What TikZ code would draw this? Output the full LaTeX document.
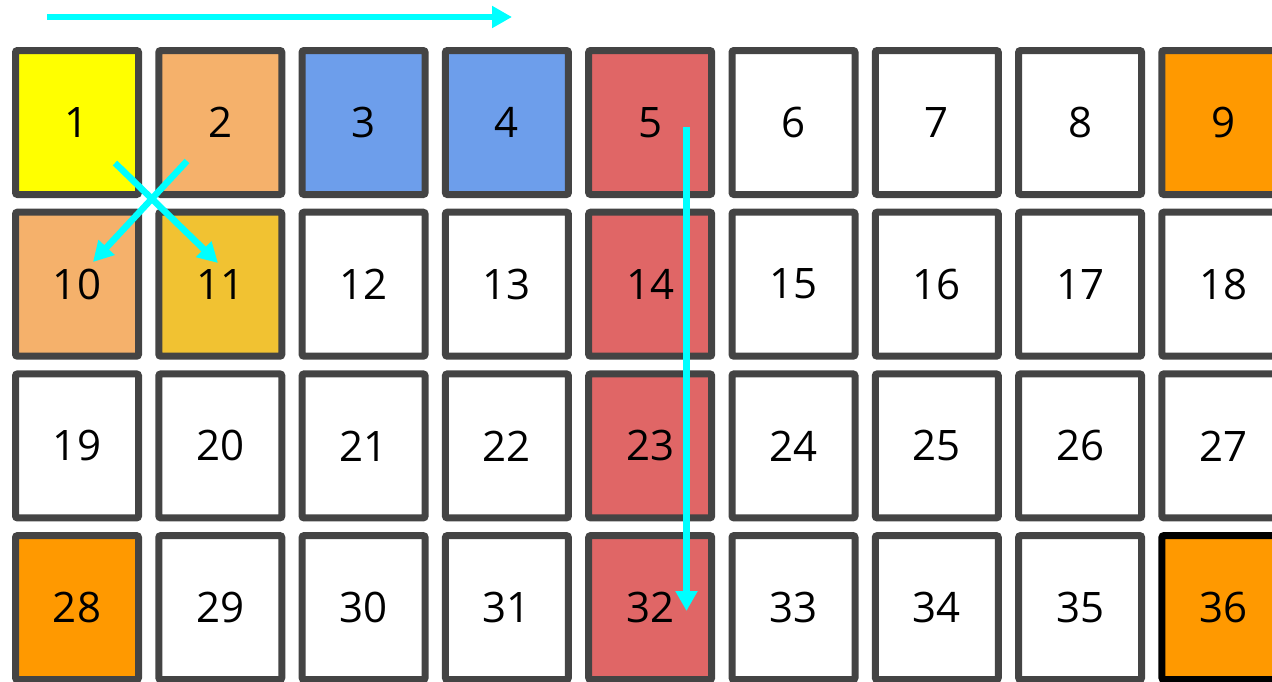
\documentclass[tikz,border=0pt]{standalone}
\usepackage{fontspec}
\setmainfont{Open Sans}
\usetikzlibrary{arrows.meta}
\definecolor{bord}{HTML}{444444}
\definecolor{cyel}{HTML}{FFFF00}
\definecolor{csand}{HTML}{F5B16B}
\definecolor{cblue}{HTML}{6D9EEB}
\definecolor{cred}{HTML}{E06666}
\definecolor{cgold}{HTML}{F1C232}
\definecolor{corange}{HTML}{FF9900}
\definecolor{ccyan}{HTML}{00FFFF}
\tikzset{
  cell/.style={draw=bord, line width=7pt, rounded corners=2pt, minimum width=123pt, minimum height=144pt, inner sep=0pt, font=\fontsize{42}{50}\selectfont},
  arr/.style={draw=ccyan, line width=6.5pt, -{Triangle[length=20pt,width=21pt]}},
}
\begin{document}
\begin{tikzpicture}[x=1pt,y=-1pt]
\useasboundingbox (0,0) rectangle (1272,681);
\foreach \n/\fc/\bc in {1/cyel/bord,2/csand/bord,3/cblue/bord,4/cblue/bord,5/cred/bord,6/white/bord,7/white/bord,8/white/bord,9/corange/bord,
  10/csand/bord,11/cgold/bord,12/white/bord,13/white/bord,14/cred/bord,15/white/bord,16/white/bord,17/white/bord,18/white/bord,
  19/white/bord,20/white/bord,21/white/bord,22/white/bord,23/cred/bord,24/white/bord,25/white/bord,26/white/bord,27/white/bord,
  28/corange/bord,29/white/bord,30/white/bord,31/white/bord,32/cred/bord,33/white/bord,34/white/bord,35/white/bord,36/corange/black}{
  \pgfmathtruncatemacro{\r}{div(\n-1,9)}
  \pgfmathtruncatemacro{\c}{mod(\n-1,9)}
  \node[cell, fill=\fc, draw=\bc] (c\n) at ({77+143.3*\c},{122.5+161.7*\r}) {\n};
}
\coordinate (hs) at (47,17);
\coordinate (he) at (512,17);
\draw[arr] (hs) -- (he);
\coordinate (vs) at (686.5,127);
\coordinate (ve) at (686.5,611);
\draw[arr] (vs) -- (ve);
\coordinate (a1) at (115,163);
\coordinate (a2) at (218,263);
\draw[arr] (a1) -- (a2);
\coordinate (b1) at (187,161);
\coordinate (b2) at (93,262);
\draw[arr] (b1) -- (b2);
\end{tikzpicture}
\end{document}
